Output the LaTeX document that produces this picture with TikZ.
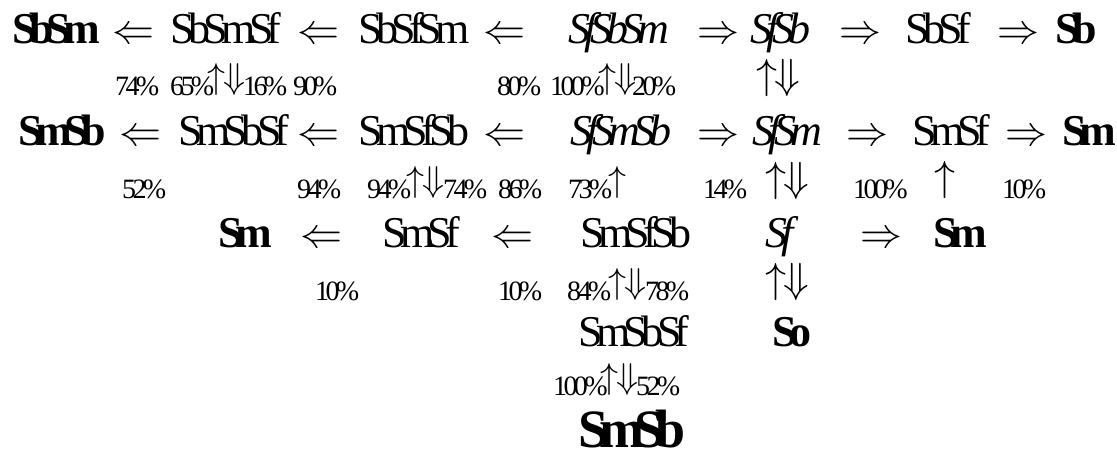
\documentclass[tikz,border=0pt]{standalone}
\usepackage{fix-cm}
\usepackage{fontspec}
\setmainfont{Liberation Serif}[LetterSpace=-15,
  BoldFeatures={LetterSpace=-17},
  ItalicFeatures={LetterSpace=-14}]
\newfontfamily\pctfont{Liberation Serif}[LetterSpace=-13]
\tikzset{
  txt/.style={anchor=base west, inner sep=0pt, font=\fontsize{44}{50}\selectfont},
  txtb/.style={anchor=base west, inner sep=0pt, font=\fontsize{44}{50}\selectfont\bfseries},
  txti/.style={anchor=base west, inner sep=0pt, font=\fontsize{44}{50}\selectfont\itshape},
  pct/.style={anchor=base west, inner sep=0pt, font=\pctfont\fontsize{28}{32}\selectfont},
  arr/.style={anchor=base west, inner sep=0pt, font=\fontsize{42}{48}\selectfont},
  updn/.style={anchor=south west, inner sep=0pt, font=\fontsize{36}{40}\selectfont},
  updnl/.style={anchor=south west, inner sep=0pt, font=\fontsize{42}{48}\selectfont},
}
\newcommand{\UD}{$\uparrow\mkern-1mu\Downarrow$}
\begin{document}
\begin{tikzpicture}[x=1pt,y=-1pt]
\useasboundingbox (0,0) rectangle (1117,464);
% row 1
\node[txtb] (r1a) at (12,43) {SbSm};
\node[arr]  (r1b) at (112,43) {$\Leftarrow$};
\node[txt]  (r1c) at (170,43) {SbSmSf};
\node[arr]  (r1d) at (297,43) {$\Leftarrow$};
\node[txt]  (r1e) at (358,43) {SbSfSm};
\node[arr]  (r1f) at (483,43) {$\Leftarrow$};
\node[txti] (r1g) at (568,43) {SfSbSm};
\node[arr]  (r1h) at (697,43) {$\Rightarrow$};
\node[txti] (r1i) at (750,43) {SfSb};
\node[arr]  (r1j) at (839,43) {$\Rightarrow$};
\node[txt]  (r1k) at (905,43) {SbSf};
\node[arr]  (r1l) at (997,43) {$\Rightarrow$};
\node[txtb] (r1m) at (1055,43) {Sb};
% percents 1
\node[pct]  (p1a) at (115,95) {74\%};
\node[pct]  (p1b) at (170,95) {65\%};
\node[updn] (p1c) at (207,96) {\UD};
\node[pct]  (p1d) at (243,95) {16\%};
\node[pct]  (p1e) at (293,95) {90\%};
\node[pct]  (p1f) at (497,95) {80\%};
\node[pct]  (p1g) at (550,95) {100\%};
\node[updn] (p1h) at (598,96) {\UD};
\node[pct]  (p1i) at (632,95) {20\%};
\node[updnl] (p1j) at (756,97) {\UD};
% row 2
\node[txtb] (r2a) at (18,145) {SmSb};
\node[arr]  (r2b) at (119,145) {$\Leftarrow$};
\node[txt]  (r2c) at (178,145) {SmSbSf};
\node[arr]  (r2d) at (297,145) {$\Leftarrow$};
\node[txt]  (r2e) at (358,145) {SmSfSb};
\node[arr]  (r2f) at (483,145) {$\Leftarrow$};
\node[txti] (r2g) at (570,145) {SfSmSb};
\node[arr]  (r2h) at (697,145) {$\Rightarrow$};
\node[txti] (r2i) at (752,145) {SfSm};
\node[arr]  (r2j) at (846,145) {$\Rightarrow$};
\node[txt]  (r2k) at (912,145) {SmSf};
\node[arr]  (r2l) at (1005,145) {$\Rightarrow$};
\node[txtb] (r2m) at (1062,145) {Sm};
% percents 2
\node[pct]  (p2a) at (122,198) {52\%};
\node[pct]  (p2b) at (297,198) {94\%};
\node[pct]  (p2c) at (367,198) {94\%};
\node[updn] (p2d) at (406,199) {\UD};
\node[pct]  (p2e) at (443,198) {74\%};
\node[pct]  (p2f) at (498,198) {86\%};
\node[pct]  (p2g) at (568,198) {73\%};
\node[updn] (p2h) at (608,199) {$\uparrow$};
\node[pct]  (p2i) at (703,198) {14\%};
\node[updnl] (p2j) at (765,200) {\UD};
\node[pct]  (p2k) at (853,198) {100\%};
\node[updnl] (p2l) at (934,199) {$\uparrow$};
\node[pct]  (p2m) at (1002,198) {10\%};
% row 3
\node[txtb] (r3a) at (218,247) {Sm};
\node[arr]  (r3b) at (300,247) {$\Leftarrow$};
\node[txt]  (r3c) at (382,247) {SmSf};
\node[arr]  (r3d) at (491,247) {$\Leftarrow$};
\node[txt]  (r3e) at (580,247) {SmSfSb};
\node[txti] (r3f) at (765,247) {Sf};
\node[arr]  (r3g) at (860,247) {$\Rightarrow$};
\node[txtb] (r3h) at (933,247) {Sm};
% percents 3
\node[pct]  (p3a) at (315,300) {10\%};
\node[pct]  (p3b) at (498,300) {10\%};
\node[pct]  (p3c) at (567,300) {84\%};
\node[updn] (p3d) at (608,301) {\UD};
\node[pct]  (p3e) at (645,300) {78\%};
\node[updnl] (p3f) at (765,301) {\UD};
% row 4
\node[txt]  (r4a) at (578,346) {SmSbSf};
\node[txtb] (r4b) at (772,346) {So};
% percents 4
\node[pct]  (p4a) at (553,395) {100\%};
\node[updn] (p4b) at (600,396) {\UD};
\node[pct]  (p4c) at (636,395) {52\%};
% row 5
\node[anchor=base west, inner sep=0pt, font=\fontsize{54}{60}\selectfont\bfseries] (r5a) at (578,447) {SmSb};
\end{tikzpicture}
\end{document}
